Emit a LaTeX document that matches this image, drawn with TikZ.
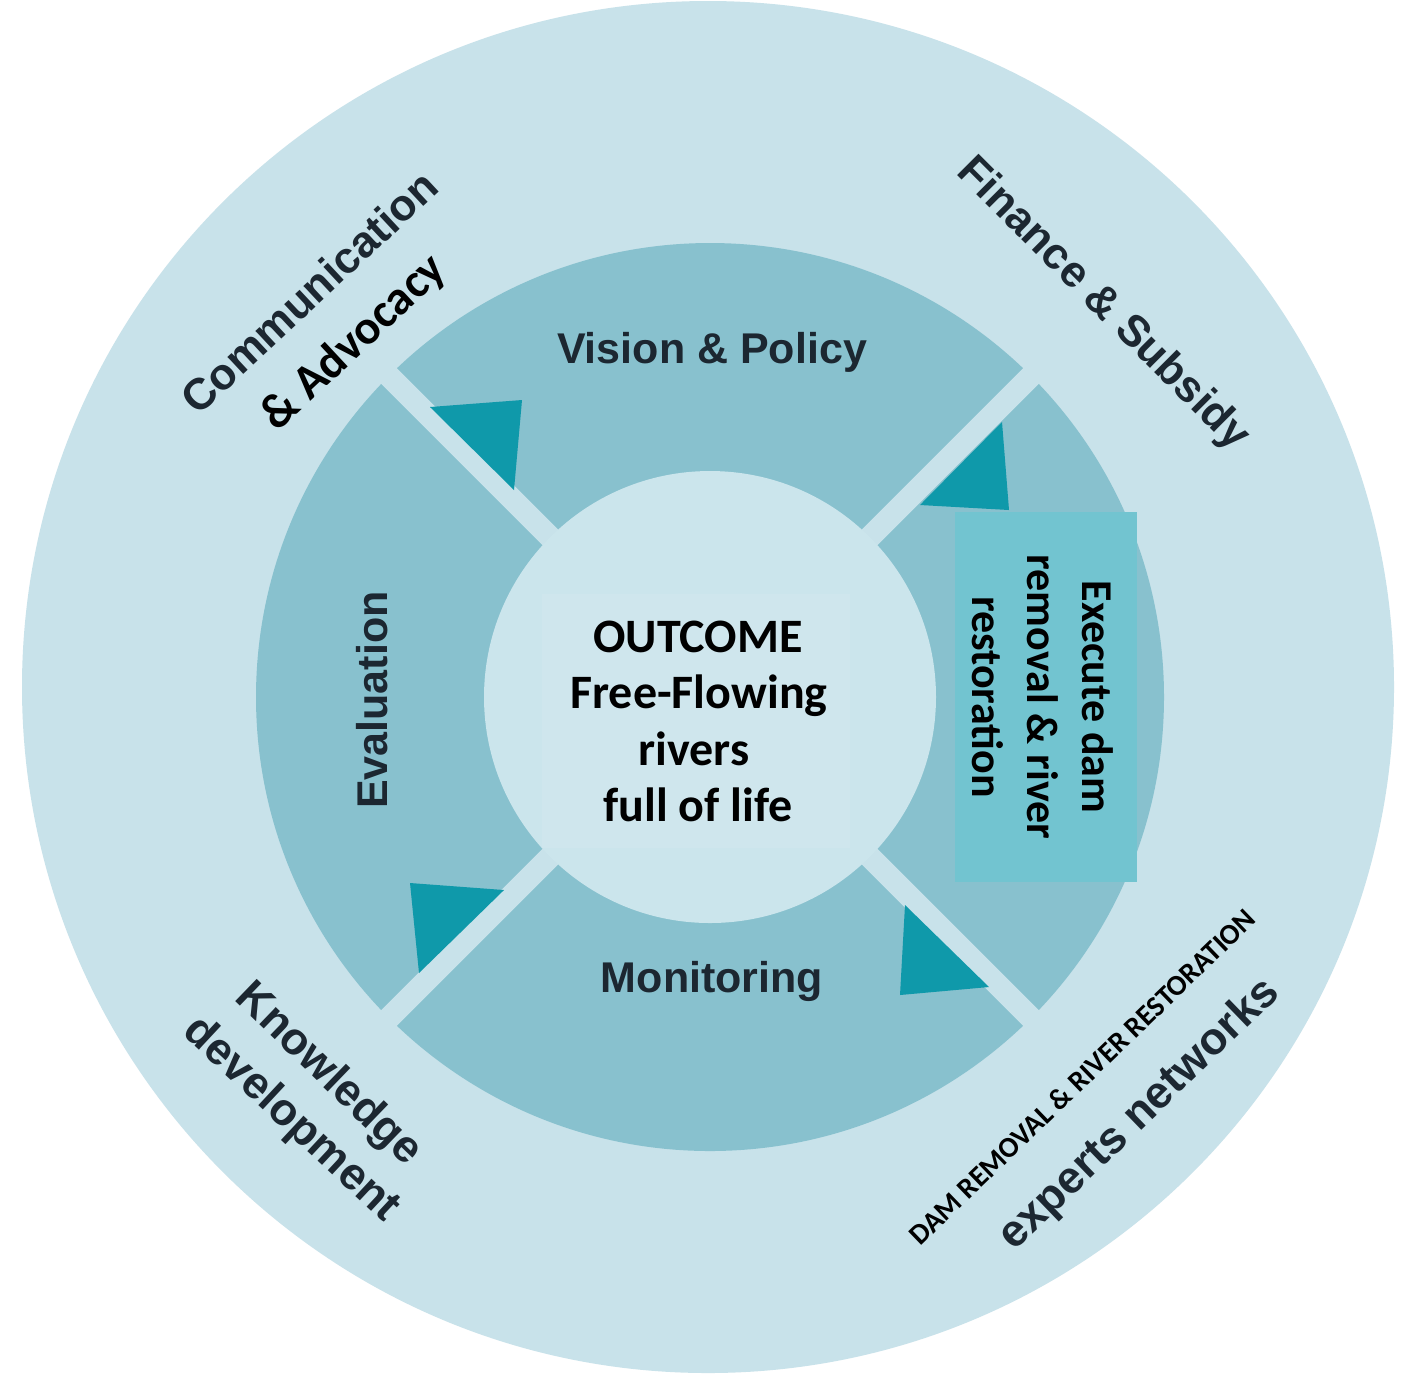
\documentclass[tikz,border=0pt]{standalone}
\usepackage{fontspec}
\newfontfamily\labfont{Liberation Sans}
\newfontfamily\calfont{Carlito}
\definecolor{outerc}{HTML}{C8E2EA}
\definecolor{ringc}{HTML}{88C1CE}
\definecolor{innerc}{HTML}{CBE5EC}
\definecolor{outboxc}{HTML}{CFE6ED}
\definecolor{arrowc}{HTML}{0F99AA}
\definecolor{execc}{HTML}{72C4D0}
\definecolor{labc}{HTML}{1C2731}
\tikzset{
  ringlabel/.style={font=\labfont\bfseries\fontsize{21.5}{25}\selectfont, text=labc, inner sep=0pt},
  toplabel/.style={font=\labfont\bfseries\fontsize{22}{26}\selectfont, text=labc, inner sep=0pt},
  botlabel/.style={font=\labfont\bfseries\fontsize{22.5}{26}\selectfont, text=labc, inner sep=0pt},
  outcomelabel/.style={font=\calfont\bfseries\fontsize{24}{28}\selectfont, text=black, inner sep=0pt},
  execlabel/.style={font=\calfont\bfseries\fontsize{22}{26}\selectfont, text=black, inner sep=0pt},
  advlabel/.style={font=\calfont\bfseries\fontsize{24}{28}\selectfont, text=black, inner sep=0pt},
  damlabel/.style={font=\calfont\bfseries\fontsize{14.5}{17}\selectfont, text=black, inner sep=0pt},
  gap/.style={outerc, line width=11pt},
  arrowhead/.style={fill=arrowc}
}
\begin{document}
\begin{tikzpicture}[x=0.5pt,y=-0.5pt]
\useasboundingbox (0,0) rectangle (1411,1373);
\clip (0,0) rectangle (1411,1373);
\fill[white] (0,0) rectangle (1411,1373);
\coordinate (C) at (710,697);
\coordinate (O) at (708,687);
% outer disc
\fill[outerc] (O) circle[radius=686];
% middle ring
\fill[ringc] (C) circle[radius=454];
\draw[gap] ([shift={(45:480)}]C) -- ([shift={(225:480)}]C);
\draw[gap] ([shift={(135:480)}]C) -- ([shift={(315:480)}]C);
% inner disc
\fill[innerc] (C) circle[radius=226];
\fill[outboxc] (542,594) rectangle (850,848);
% arrow heads
\fill[arrowhead] (430,407) -- (522,400) -- (514,490) -- cycle;
\fill[arrowhead] (920,505) -- (1002,422) -- (1009,510) -- cycle;
\fill[arrowhead] (410,883) -- (504,890) -- (419,973) -- cycle;
\fill[arrowhead] (905,905) -- (989,987) -- (900,995) -- cycle;
% execute box
\fill[execc] (955,512) rectangle (1137,882);
% ring labels
\node[ringlabel, anchor=base] (vision) at (712,363) {Vision \& Policy};
\node[ringlabel, anchor=base] (monitoring) at (712,992) {Monitoring};
\node[ringlabel, anchor=base, rotate=90] (evaluation) at (387,700) {Evaluation};
% execute text
\node[execlabel, anchor=base, rotate=-90] (ex1) at (1082,697) {Execute dam};
\node[execlabel, anchor=base, rotate=-90] (ex2) at (1027,697) {removal \& river};
\node[execlabel, anchor=base, rotate=-90] (ex3) at (972,697) {restoration};
% outcome
\node[outcomelabel, anchor=base] (o1) at (698,652) {OUTCOME};
\node[outcomelabel, anchor=base] (o2) at (699,708) {Free-Flowing};
\node[outcomelabel, anchor=base] (o3) at (694,765) {rivers};
\node[outcomelabel, anchor=base] (o4) at (698,821) {full of life};
% outer labels
\node[toplabel, rotate=43] (comm) at (309,292) {Communication};
\node[advlabel, rotate=43] (adv) at (354,343) {\& Advocacy};
\node[toplabel, rotate=-45] (fin) at (1103,305) {Finance \& Subsidy};
\node[botlabel, rotate=-44] (know) at (328,1075) {Knowledge};
\node[botlabel, rotate=-43] (devel) at (291,1120) {development};
\node[botlabel, rotate=44] (experts) at (1140,1115) {experts networks};
\node[damlabel, rotate=44] (dam) at (1082,1077) {DAM REMOVAL \& RIVER RESTORATION};
\end{tikzpicture}
\end{document}
